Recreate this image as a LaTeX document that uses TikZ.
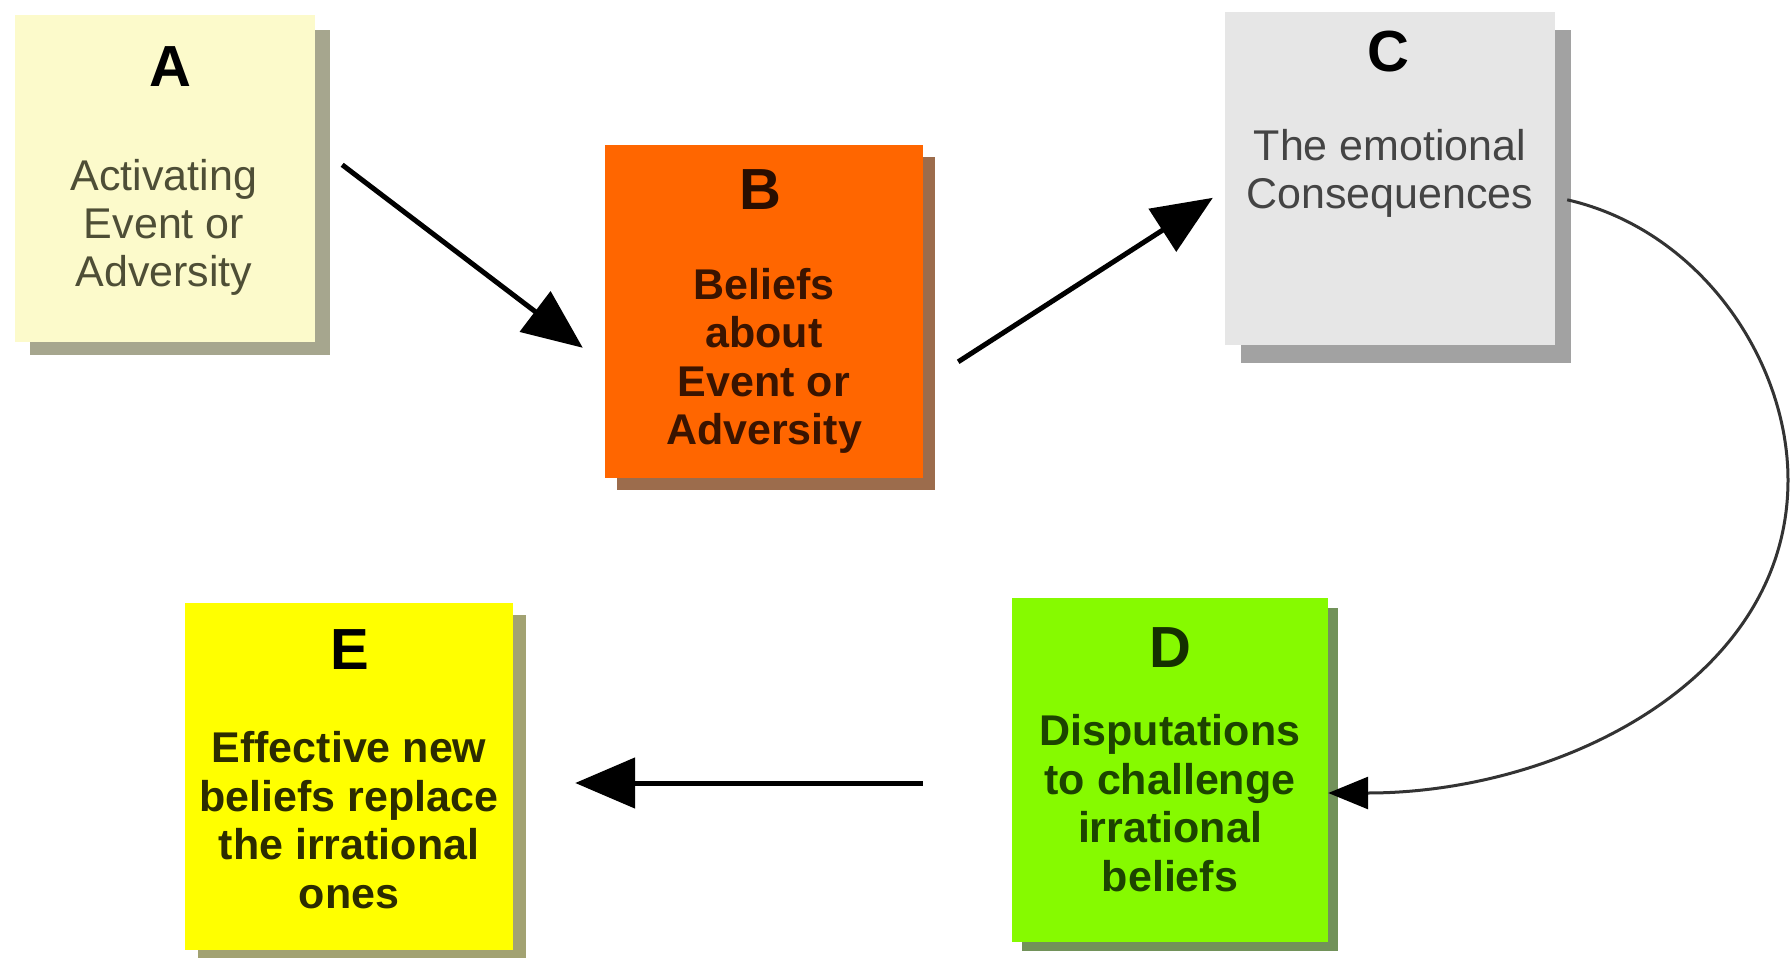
\documentclass[tikz,border=0pt]{standalone}
\usepackage{fontspec}
\setmainfont{Liberation Sans}
\usetikzlibrary{arrows.meta,calc,backgrounds}
\definecolor{fillA}{HTML}{FCFACB}
\definecolor{fillB}{HTML}{FF6600}
\definecolor{fillC}{HTML}{E6E6E6}
\definecolor{fillD}{HTML}{86FA00}
\definecolor{fillE}{HTML}{FFFF00}
\definecolor{txtA}{HTML}{4E4E36}
\definecolor{txtB}{HTML}{3A1400}
\definecolor{txtC}{HTML}{444444}
\definecolor{txtD}{HTML}{1C4400}
\definecolor{txtE}{HTML}{2C2C00}
\definecolor{shA}{HTML}{A6A68E}
\definecolor{shB}{HTML}{9C6C4C}
\definecolor{shC}{HTML}{A2A2A2}
\definecolor{shD}{HTML}{72925A}
\definecolor{shE}{HTML}{A2A272}
\definecolor{curvecol}{HTML}{333333}
\tikzset{
  card/.style={rectangle, inner sep=0pt, draw=none},
  letter/.style={inner sep=0pt, font=\fontsize{58}{60}\selectfont\bfseries},
  bodytxt/.style={inner sep=0pt, align=center, font=\fontsize{43}{48}\selectfont},
  bodybold/.style={bodytxt, font=\fontsize{43}{48.5}\selectfont\bfseries},
  bigarrow/.style={line width=5pt, -{Triangle[length=60pt,width=50pt]}},
  thinarrow/.style={line width=3pt, curvecol, -{Triangle[length=40pt,width=32pt,color=black]}}
}
\begin{document}
\begin{tikzpicture}[x=1pt,y=-1pt]
\useasboundingbox (0,0) rectangle (1791,966);

% boxes
\node[card, fill=fillA, minimum width=300pt, minimum height=327pt] (A) at (165,178.5) {};
\node[card, fill=fillB, minimum width=318pt, minimum height=333pt] (B) at (764,311.5) {};
\node[card, fill=fillC, minimum width=330pt, minimum height=333pt] (C) at (1390,178.5) {};
\node[card, fill=fillD, minimum width=316pt, minimum height=344pt] (D) at (1170,770) {};
\node[card, fill=fillE, minimum width=328pt, minimum height=347pt] (E) at (349,776.5) {};

% background and shadows
\begin{pgfonlayer}{background}
\fill[white] (0,0) rectangle (1791,966);
\fill[shA] ($(A.north west)+(15,15)$) rectangle ($(A.south east)+(15,13)$);
\fill[shB] ($(B.north west)+(12,12)$) rectangle ($(B.south east)+(12,12)$);
\fill[shC] ($(C.north west)+(16,18)$) rectangle ($(C.south east)+(16,18)$);
\fill[shD] ($(D.north west)+(10,10)$) rectangle ($(D.south east)+(10,9)$);
\fill[shE] ($(E.north west)+(13,12)$) rectangle ($(E.south east)+(13,8)$);
\end{pgfonlayer}

% titles
\node[letter] (At) at (170,67) {A};
\node[letter, text=txtB!70!black] (Bt) at (760,190) {B};
\node[letter] (Ct) at (1388,52) {C};
\node[letter, text=txtD!70!black] (Dt) at (1170,648) {D};
\node[letter] (Et) at (350,650) {E};

% bodies
\node[bodytxt, text=txtA] (Ab) at (164,227) {Activating\\Event or\\Adversity};
\node[bodybold, text=txtB] (Bb) at (764,361) {Beliefs\\about\\Event or\\Adversity};
\node[bodytxt, text=txtC] (Cb) at (1390,173) {The emotional\\Consequences};
\node[bodybold, text=txtD] (Db) at (1170,803) {Disputations\\to challenge\\irrational\\beliefs};
\node[bodybold, text=txtE] (Eb) at (349,820) {Effective new\\beliefs replace\\the irrational\\ones};

% connectors
\draw[bigarrow] ($(A.north east)+(27,150)$) -- ($(B.north west)+(-22,203)$);
\draw[bigarrow] ($(B.north east)+(35,217)$) -- ($(C.north west)+(-12,186)$);
\draw[bigarrow] ($(D.west)+(-89,13)$) -- ($(E.east)+(62,6.5)$);
\draw[thinarrow] ($(C.north east)+(12,188)$) .. controls (1700,230) and (1788,360) .. (1788,480)
   .. controls (1788,680) and (1560,793) .. ($(D.east)+(0,23)$);
\end{tikzpicture}
\end{document}
